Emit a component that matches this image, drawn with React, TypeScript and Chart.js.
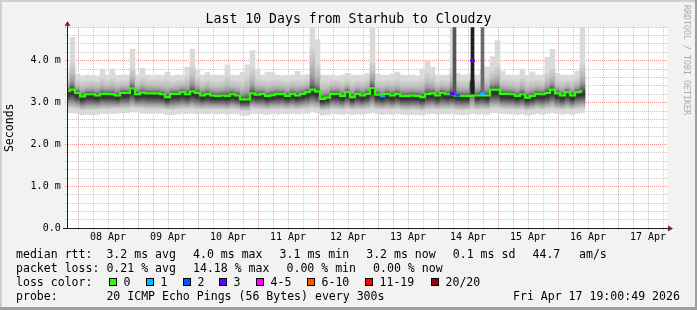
import React, { useEffect, useRef } from 'react';
import { Chart, registerables } from 'chart.js';

Chart.register(...registerables);

// ---------------- data ----------------
const chartTitle = 'Last 10 Days from Starhub to Cloudzy';
const yAxisTitle = 'Seconds';
const watermark = 'RRDTOOL / TOBI OETIKER';

// time axis in hours, 0 = 08 Apr 00:00
const viewStartHour = -4.4;
const viewEndHour = 235.6;
const firstSampleHour = -4.2;
const sampleStepHours = 2;

const dayLabels = ['08 Apr', '09 Apr', '10 Apr', '11 Apr', '12 Apr', '13 Apr', '14 Apr', '15 Apr', '16 Apr', '17 Apr'];
const yTickLabels = ['0.0', '1.0 m', '2.0 m', '3.0 m', '4.0 m'];

// median rtt (ms), one value per 2 h sample
const medianRtt = [
  3.28, 3.31, 3.23, 3.15, 3.20, 3.20, 3.17, 3.21, 3.21, 3.20,
  3.17, 3.23, 3.23, 3.34, 3.20, 3.24, 3.22, 3.22, 3.22, 3.20,
  3.13, 3.21, 3.21, 3.25, 3.20, 3.27, 3.23, 3.17, 3.21, 3.17,
  3.16, 3.17, 3.16, 3.20, 3.17, 3.08, 3.08, 3.22, 3.19, 3.21,
  3.16, 3.18, 3.21, 3.21, 3.16, 3.21, 3.17, 3.21, 3.25, 3.31,
  3.27, 3.09, 3.12, 3.21, 3.21, 3.16, 3.25, 3.13, 3.21, 3.17,
  3.21, 3.35, 3.19, 3.16, 3.21, 3.17, 3.21, 3.16, 3.16, 3.17,
  3.16, 3.13, 3.21, 3.22, 3.17, 3.23, 3.20, 3.21, 3.17, 3.16,
  3.16, 4.00, 3.17, 3.21, 3.17, 3.31, 3.31, 3.21, 3.21, 3.20,
  3.16, 3.20, 3.12, 3.16, 3.21, 3.20, 3.23, 3.31, 3.22, 3.17,
  3.25, 3.17, 3.25, 3.27,
];

// smoke envelope: slowest / fastest ping (ms)
const smokeMax = [
  3.75, 4.56, 3.68, 3.64, 3.66, 3.65, 3.64, 3.80, 3.66, 3.80,
  3.65, 3.66, 3.65, 4.28, 3.66, 3.82, 3.66, 3.64, 3.66, 3.65,
  3.73, 3.64, 3.66, 3.65, 3.85, 4.28, 3.80, 3.66, 3.72, 3.65,
  3.66, 3.65, 3.90, 3.66, 3.65, 3.73, 3.90, 4.24, 3.80, 3.66,
  3.73, 3.72, 3.66, 3.64, 3.65, 3.66, 3.75, 3.65, 3.67, 4.85,
  4.50, 3.66, 3.65, 3.66, 3.64, 3.66, 3.70, 3.66, 3.65, 3.66,
  3.70, 4.85, 3.68, 3.66, 3.65, 3.68, 3.73, 3.66, 3.65, 3.66,
  3.64, 3.80, 4.00, 3.85, 3.66, 3.65, 3.66, 4.85, 3.70, 3.66,
  3.67, 3.70, 3.66, 3.80, 3.85, 4.10, 4.48, 3.75, 3.66, 3.65,
  3.66, 3.80, 3.65, 3.73, 3.66, 3.65, 4.08, 4.27, 3.70, 3.66,
  3.65, 3.66, 3.75, 4.85,
];
const smokeMin = [
  2.76, 2.76, 2.74, 2.71, 2.72, 2.71, 2.72, 2.74, 2.73, 2.74,
  2.75, 2.76, 2.76, 2.78, 2.77, 2.75, 2.74, 2.75, 2.74, 2.75,
  2.72, 2.71, 2.73, 2.74, 2.74, 2.75, 2.73, 2.74, 2.73, 2.74,
  2.73, 2.74, 2.72, 2.74, 2.73, 2.70, 2.70, 2.75, 2.74, 2.73,
  2.72, 2.74, 2.73, 2.74, 2.73, 2.74, 2.73, 2.74, 2.75, 2.78,
  2.76, 2.70, 2.71, 2.74, 2.73, 2.72, 2.74, 2.72, 2.73, 2.72,
  2.74, 2.76, 2.73, 2.72, 2.73, 2.72, 2.74, 2.72, 2.71, 2.72,
  2.72, 2.70, 2.73, 2.74, 2.72, 2.73, 2.73, 2.74, 2.72, 2.71,
  2.72, 2.74, 2.72, 2.73, 2.72, 2.76, 2.76, 2.74, 2.73, 2.73,
  2.72, 2.73, 2.70, 2.72, 2.74, 2.72, 2.74, 2.76, 2.73, 2.72,
  2.74, 2.72, 2.75, 2.76,
];
// dense part of the smoke (most of the 20 pings)
const smokeCoreHi = [
  3.56, 3.95, 3.54, 3.50, 3.52, 3.53, 3.51, 3.58, 3.53, 3.58,
  3.52, 3.54, 3.53, 3.80, 3.53, 3.60, 3.54, 3.53, 3.54, 3.52,
  3.55, 3.51, 3.53, 3.54, 3.62, 3.85, 3.60, 3.52, 3.56, 3.52,
  3.51, 3.52, 3.62, 3.54, 3.52, 3.50, 3.62, 3.80, 3.58, 3.53,
  3.52, 3.54, 3.54, 3.52, 3.51, 3.53, 3.55, 3.53, 3.56, 4.30,
  3.90, 3.50, 3.50, 3.53, 3.54, 3.51, 3.56, 3.50, 3.53, 3.52,
  3.56, 3.95, 3.54, 3.52, 3.53, 3.53, 3.56, 3.52, 3.51, 3.52,
  3.51, 3.56, 3.70, 3.62, 3.52, 3.54, 3.53, 3.80, 3.54, 3.51,
  3.52, 3.60, 3.52, 3.58, 3.60, 3.75, 3.85, 3.56, 3.54, 3.53,
  3.52, 3.58, 3.50, 3.53, 3.54, 3.52, 3.70, 3.80, 3.55, 3.52,
  3.54, 3.52, 3.58, 3.90,
];
const smokeCoreLo = [
  2.88, 2.88, 2.86, 2.83, 2.84, 2.84, 2.84, 2.86, 2.85, 2.86,
  2.86, 2.87, 2.87, 2.89, 2.88, 2.87, 2.86, 2.86, 2.86, 2.86,
  2.84, 2.84, 2.85, 2.86, 2.86, 2.87, 2.85, 2.85, 2.85, 2.85,
  2.85, 2.85, 2.84, 2.86, 2.85, 2.82, 2.82, 2.87, 2.86, 2.85,
  2.84, 2.86, 2.85, 2.86, 2.85, 2.86, 2.85, 2.86, 2.87, 2.89,
  2.87, 2.82, 2.83, 2.86, 2.85, 2.84, 2.86, 2.84, 2.85, 2.84,
  2.86, 2.88, 2.85, 2.84, 2.85, 2.84, 2.86, 2.84, 2.83, 2.84,
  2.84, 2.82, 2.85, 2.86, 2.84, 2.85, 2.85, 2.86, 2.84, 2.83,
  2.84, 2.86, 2.84, 2.85, 2.84, 2.88, 2.88, 2.86, 2.85, 2.85,
  2.84, 2.85, 2.82, 2.84, 2.86, 2.84, 2.86, 2.88, 2.85, 2.84,
  2.86, 2.84, 2.87, 2.88,
];

// samples with packet loss (sample index, lost pings of 20)
const lossSampleIndex = [63, 77, 78, 81, 83];
const lossSamplePings = [1, 3, 2, 3, 1];

// short bursts where many pings were slow (hour, low ms, high ms)
const burstHours = [150.6, 157.8, 161.8];
const burstLow = [3.22, 3.20, 3.24];
const burstHigh = [4.9, 4.9, 4.9];

const lossLegendLabels = ['0', '1', '2', '3', '4-5', '6-10', '11-19', '20/20'];
const lossLegendUpper = [0, 1, 2, 3, 5, 10, 19, 20];

const rttLegendTitle = 'median rtt:';
const rttStats = ['3.2 ms avg', '4.0 ms max', '3.1 ms min', '3.2 ms now', '0.1 ms sd', '44.7', 'am/s'];
const lossLegendTitle = 'packet loss:';
const lossStats = ['0.21 % avg', '14.18 % max', '0.00 % min', '0.00 % now'];
const colorLegendTitle = 'loss color:';
const probeTitle = 'probe:';
const probeText = '20 ICMP Echo Pings (56 Bytes) every 300s';
const stampText = 'Fri Apr 17 19:00:49 2026';

// ---------------- styles / layout ----------------
const W = 697;
const H = 310;
const MONO = '"DejaVu Sans Mono", monospace';
const lossColors = ['#26ff00', '#00b8ff', '#0059ff', '#5e00ff', '#ff00ff', '#ff5500', '#ff0000', '#a10000'];
const burstShades = ['#555555', '#1e1e1e', '#6c6c6c'];
const MAJOR_GRID = 'rgba(222,79,79,0.6)';
const MINOR_GRID = 'rgba(143,143,143,0.5)';
const AXIS = '#1f1f1f';
const ARROW = '#801f1f';
const LEGEND_X = 16;
const legendBaselines = [258.3, 272.1, 285.9, 299.7];
const rttStatX = [106.4, 193, 279.6, 366.2, 452.8, 532.5, 579];
const lossStatX = [106.4, 193, 286.5, 373.1];
const swatchX = [109, 146, 183, 219, 256, 307, 365, 431];
const probeX = 106.4;
const stampX = 513;

function lossColor(p: number) {
  for (let k = 0; k < lossLegendUpper.length; k++) if (p <= lossLegendUpper[k]) return lossColors[k];
  return lossColors[lossColors.length - 1];
}

function isInt(v: number) {
  return Math.abs(v - Math.round(v)) < 1e-6;
}

function coreFill(c: any) {
  if (c.type !== 'data') return '#8a8a8a';
  const i = c.dataIndex;
  const ys = c.chart.scales.y;
  const top = ys.getPixelForValue(smokeCoreHi[i]);
  const bot = ys.getPixelForValue(smokeCoreLo[i]);
  const med = ys.getPixelForValue(medianRtt[i]);
  if (!isFinite(top) || !isFinite(bot) || bot - top < 1) return '#8a8a8a';
  let f = (med - top) / (bot - top);
  f = Math.min(0.85, Math.max(0.15, f));
  const r = 1 - f;
  const g = c.chart.ctx.createLinearGradient(0, top, 0, bot);
  g.addColorStop(0, '#d3d3d3');
  g.addColorStop(f * 0.4, '#bcbcbc');
  g.addColorStop(f * 0.7, '#999999');
  g.addColorStop(f * 0.9, '#666666');
  g.addColorStop(f, '#3a3a3a');
  g.addColorStop(f + r * 0.25, '#353535');
  g.addColorStop(f + r * 0.5, '#6a6a6a');
  g.addColorStop(f + r * 0.75, '#a2a2a2');
  g.addColorStop(1, '#cecece');
  return g;
}

const framePlugin = {
  id: 'smokeFrame',
  beforeDraw(chart: any) {
    const { ctx, chartArea: a } = chart;
    ctx.save();
    ctx.fillStyle = '#f2f2f2';
    ctx.fillRect(0, 0, W, H);
    ctx.fillStyle = '#ffffff';
    ctx.fillRect(a.left, a.top, a.right - a.left, a.bottom - a.top);
    ctx.restore();
  },
  afterDraw(chart: any) {
    const { ctx, chartArea: a } = chart;
    ctx.save();
    const ax = Math.round(a.left - 0.5) + 0.5;
    const ay = Math.round(a.bottom - 0.5) + 0.5;
    ctx.strokeStyle = AXIS;
    ctx.lineWidth = 1;
    ctx.beginPath();
    ctx.moveTo(a.left - 4, ay);
    ctx.lineTo(a.right + 2, ay);
    ctx.moveTo(ax, a.bottom);
    ctx.lineTo(ax, a.top - 2);
    ctx.stroke();
    ctx.fillStyle = ARROW;
    ctx.beginPath();
    ctx.moveTo(ax, a.top - 6);
    ctx.lineTo(ax - 3, a.top - 1.5);
    ctx.lineTo(ax + 3, a.top - 1.5);
    ctx.closePath();
    ctx.fill();
    ctx.beginPath();
    ctx.moveTo(a.right + 6, ay);
    ctx.lineTo(a.right + 1, ay - 3);
    ctx.lineTo(a.right + 1, ay + 3);
    ctx.closePath();
    ctx.fill();

    // legend
    ctx.font = '11.55px ' + MONO;
    ctx.textAlign = 'left';
    ctx.textBaseline = 'alphabetic';
    ctx.fillStyle = '#000';
    ctx.fillText(rttLegendTitle, LEGEND_X, legendBaselines[0]);
    rttStats.forEach((s, k) => ctx.fillText(s, rttStatX[k], legendBaselines[0]));
    ctx.fillText(lossLegendTitle, LEGEND_X, legendBaselines[1]);
    lossStats.forEach((s, k) => ctx.fillText(s, lossStatX[k], legendBaselines[1]));
    ctx.fillText(colorLegendTitle, LEGEND_X, legendBaselines[2]);
    lossLegendLabels.forEach((lab, k) => {
      const x = swatchX[k];
      const y = Math.round(legendBaselines[2] - 8);
      ctx.fillStyle = lossColors[k];
      ctx.fillRect(x, y, 8, 8);
      ctx.strokeStyle = '#000';
      ctx.lineWidth = 1;
      ctx.strokeRect(x + 0.5, y + 0.5, 7, 7);
      ctx.fillStyle = '#000';
      ctx.fillText(lab, x + 14.5, legendBaselines[2]);
    });
    ctx.fillText(probeTitle, LEGEND_X, legendBaselines[3]);
    ctx.fillText(probeText, probeX, legendBaselines[3]);
    ctx.fillText(stampText, stampX, legendBaselines[3]);

    // watermark
    ctx.save();
    ctx.translate(686.5, 5);
    ctx.rotate(Math.PI / 2);
    ctx.font = '8.3px ' + MONO;
    ctx.fillStyle = '#ababab';
    ctx.textBaseline = 'middle';
    ctx.fillText(watermark, 0, 0);
    ctx.restore();

    // 3d frame
    ctx.fillStyle = '#cfcfcf';
    ctx.fillRect(0, 0, W, 2);
    ctx.fillRect(0, 0, 2, H);
    ctx.fillStyle = '#9e9e9e';
    ctx.fillRect(0, H - 3, W, 3);
    ctx.fillRect(W - 2, 0, 2, H);
    ctx.restore();
  },
};

export default function App() {
  const ref = useRef<HTMLCanvasElement>(null);

  useEffect(() => {
    const canvas = ref.current;
    if (!canvas) return;
    const times = medianRtt.map((_, i) => firstSampleHour + i * sampleStepHours);
    const lossAt = new Map<number, number>();
    lossSampleIndex.forEach((s, k) => lossAt.set(s, lossSamplePings[k]));
    const xGridHours = Array.from({ length: 40 }, (_, k) => k * 6);
    const yGridValues = Array.from({ length: 25 }, (_, k) => k / 5);

    const xGridColor = (c: any) => (c.tick && c.tick.value % 24 === 0 ? MAJOR_GRID : MINOR_GRID);
    const yGridColor = (c: any) => (c.tick && isInt(c.tick.value) ? MAJOR_GRID : MINOR_GRID);

    const chart = new Chart(canvas, {
      type: 'bar',
      data: {
        datasets: [
          {
            type: 'line',
            label: 'loss',
            data: times.map((t, i) => ({ x: t, y: lossAt.has(i) ? medianRtt[i] : null })),
            showLine: false,
            pointStyle: 'line',
            pointRadius: 2.5,
            pointBorderWidth: 2.5,
            pointBorderColor: (c: any) => lossColor(lossAt.get(c.dataIndex) ?? 0),
            order: 0,
          } as any,
          {
            type: 'line',
            label: 'median rtt',
            data: times.map((t, i) => ({ x: t, y: lossAt.has(i) ? null : medianRtt[i] })),
            stepped: 'middle',
            spanGaps: true,
            borderColor: lossColors[0],
            borderWidth: 2.2,
            borderCapStyle: 'butt',
            pointRadius: 0,
            fill: false,
            order: 1,
          } as any,
          {
            type: 'bar',
            label: 'slow bursts',
            data: burstHours.map((t, k) => ({ x: t, y: [burstLow[k], burstHigh[k]] })),
            backgroundColor: burstShades,
            borderWidth: 0,
            barThickness: 3,
            grouped: false,
            order: 2,
          } as any,
          {
            type: 'bar',
            label: 'smoke core',
            data: times.map((t, i) => ({ x: t, y: [smokeCoreLo[i], smokeCoreHi[i]] })),
            backgroundColor: coreFill,
            borderWidth: 0,
            barThickness: 5,
            grouped: false,
            order: 3,
          } as any,
          {
            type: 'bar',
            label: 'smoke',
            data: times.map((t, i) => ({ x: t, y: [smokeMin[i], smokeMax[i]] })),
            backgroundColor: '#dadada',
            borderWidth: 0,
            barThickness: 5,
            grouped: false,
            order: 4,
          } as any,
        ],
      },
      options: {
        responsive: false,
        animation: false,
        devicePixelRatio: 1,
        events: [],
        layout: { padding: 0 },
        plugins: {
          legend: { display: false },
          tooltip: { enabled: false },
          title: {
            display: true,
            text: chartTitle,
            color: '#000',
            font: { family: MONO, size: 13.2, weight: 'normal', lineHeight: 1.2 },
            padding: { top: 11.4, bottom: 0 },
          },
        },
        scales: {
          x: {
            type: 'linear',
            min: viewStartHour,
            max: viewEndHour,
            bounds: 'data',
            offset: false,
            afterBuildTicks: (s: any) => {
              s.ticks = xGridHours.map((v) => ({ value: v }));
            },
            afterFit: (s: any) => {
              s.height = 81.7;
            },
            grid: {
              offset: false,
              color: xGridColor,
              lineWidth: 1,
              drawTicks: true,
              tickLength: 2,
              tickColor: xGridColor,
              tickBorderDash: [1, 1],
            },
            border: { display: true, color: AXIS, width: 1, dash: [1, 1] },
            ticks: {
              autoSkip: false,
              maxRotation: 0,
              minRotation: 0,
              padding: 1.2,
              color: '#000',
              font: { family: MONO, size: 10 },
              callback: (v: any) => {
                const k = (Number(v) - 12) / 24;
                return isInt(k) && dayLabels[Math.round(k)] ? dayLabels[Math.round(k)] : '';
              },
            },
          },
          y: {
            type: 'linear',
            min: 0,
            max: 4.8,
            bounds: 'data',
            afterBuildTicks: (s: any) => {
              s.ticks = yGridValues.map((v) => ({ value: v }));
            },
            afterFit: (s: any) => {
              s.width = 67;
            },
            grid: {
              color: yGridColor,
              lineWidth: 1,
              drawTicks: true,
              tickLength: 2,
              tickColor: yGridColor,
              tickBorderDash: [1, 1],
            },
            border: { display: true, color: AXIS, width: 1, dash: [1, 1] },
            ticks: {
              autoSkip: false,
              padding: 4.3,
              color: '#000',
              font: { family: MONO, size: 10 },
              callback: (v: any) => {
                const n = Math.round(Number(v));
                return isInt(Number(v)) && yTickLabels[n] !== undefined ? yTickLabels[n] : '';
              },
            },
            title: {
              display: true,
              text: yAxisTitle,
              color: '#000',
              font: { family: MONO, size: 11.55 },
              padding: { top: 3.5, bottom: 0 },
            },
          },
          yRight: {
            type: 'linear',
            position: 'right',
            display: true,
            grid: { display: false, drawTicks: false },
            ticks: { display: false },
            border: { display: false },
            afterFit: (s: any) => {
              s.width = 30;
            },
          },
        },
      } as any,
      plugins: [framePlugin],
    });

    return () => chart.destroy();
  }, []);

  return (
    <div style={{ position: 'absolute', left: 0, top: 0, width: W, height: H }}>
      <canvas ref={ref} width={W} height={H} style={{ display: 'block' }} />
    </div>
  );
}
